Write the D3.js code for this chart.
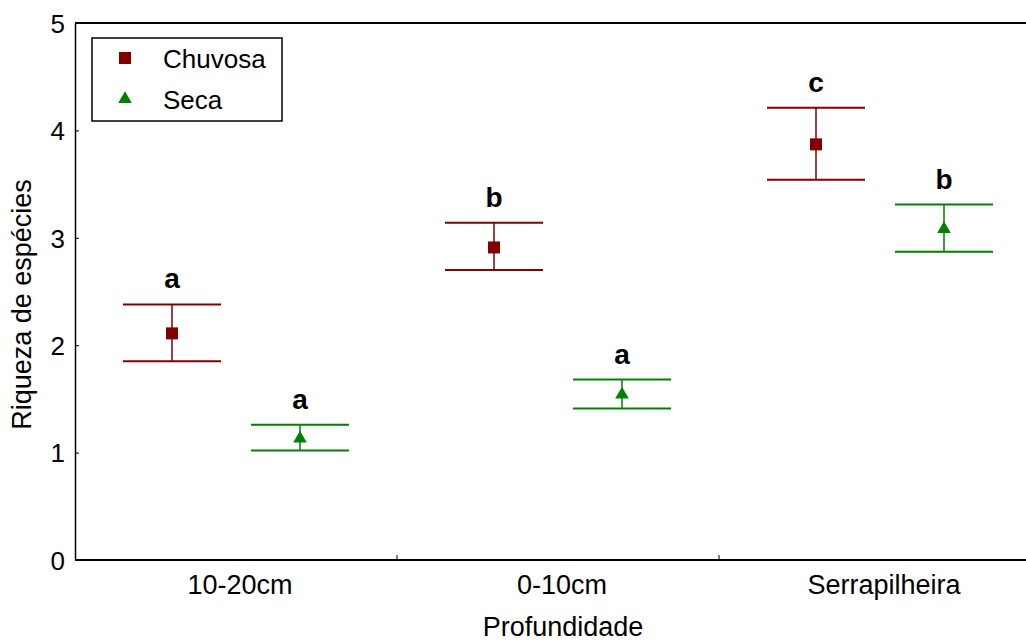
<!DOCTYPE html>
<html><head><meta charset="utf-8">
<script src="https://cdn.jsdelivr.net/npm/d3@7/dist/d3.min.js"></script>
<style>body{margin:0;background:#fff;} text{font-family:"Liberation Sans",Arial,sans-serif;}</style>
</head><body>
<svg id="c" width="1026" height="642"></svg>
<script>
const categories = ["10-20cm", "0-10cm", "Serrapilheira"];
const seriesNames = ["Chuvosa", "Seca"];
const chuvosaMean = [2.11, 2.91, 3.87];
const chuvosaUpper = [2.38, 3.14, 4.21];
const chuvosaLower = [1.85, 2.70, 3.54];
const chuvosaLetters = ["a", "b", "c"];
const secaMean = [1.14, 1.55, 3.09];
const secaUpper = [1.26, 1.68, 3.31];
const secaLower = [1.02, 1.41, 2.87];
const secaLetters = ["a", "a", "b"];
const yTicks = [0, 1, 2, 3, 4, 5];
const colors = ["#800000", "#008000"];

const svg = d3.select("#c");
const mLeft = 75, mRight = 1041, mTop = 23, mBottom = 560;
const x = d3.scaleBand().domain(categories).range([mLeft, mRight]);
const xs = d3.scalePoint().domain(seriesNames).range([-64, 64]);
const y = d3.scaleLinear().domain([0, 5]).range([mBottom, mTop]);

const series = [
  {name: "Chuvosa", mean: chuvosaMean, up: chuvosaUpper, lo: chuvosaLower, letters: chuvosaLetters, color: colors[0], sym: d3.symbolSquare},
  {name: "Seca", mean: secaMean, up: secaUpper, lo: secaLower, letters: secaLetters, color: colors[1], sym: d3.symbolTriangle}
];

// axes
const yAxis = svg.append("g").attr("transform", `translate(${mLeft},0)`)
  .call(d3.axisLeft(y).tickValues(yTicks).tickSizeInner(-4).tickSizeOuter(0).tickPadding(10).tickFormat(d3.format("d")));
yAxis.select(".domain").attr("stroke", "#000").attr("stroke-width", 1.5);
yAxis.selectAll("text").attr("font-size", 26).attr("fill", "#000").attr("dy", "0.36em");

const xAxis = svg.append("g").attr("transform", `translate(0,${mBottom})`)
  .call(d3.axisBottom(x).tickSize(0).tickPadding(34));
xAxis.select(".domain").remove();
xAxis.selectAll("text").attr("font-size", 27).attr("fill", "#000").attr("dy", "0").attr("dx", 4);
svg.append("line").attr("x1", mLeft).attr("x2", 1026).attr("y1", mBottom).attr("y2", mBottom).attr("stroke", "#000").attr("stroke-width", 2);
svg.append("line").attr("x1", mLeft).attr("x2", 1026).attr("y1", mTop).attr("y2", mTop).attr("stroke", "#000").attr("stroke-width", 2);
// category boundary ticks
svg.selectAll(".bt").data(categories.slice(1)).enter().append("line")
  .attr("x1", d => x(d)).attr("x2", d => x(d)).attr("y1", mBottom).attr("y2", mBottom - 5)
  .attr("stroke", "#000").attr("stroke-width", 1);

svg.append("text").attr("x", 563).attr("y", 636).attr("text-anchor", "middle")
  .attr("font-size", 27).text("Profundidade");
svg.append("text").attr("transform", `translate(31,${(mTop + mBottom) / 2 + 13}) rotate(-90)`).attr("text-anchor", "middle")
  .attr("font-size", 27).text("Riqueza de espécies");

// data
series.forEach(s => {
  const g = svg.append("g");
  categories.forEach((c, i) => {
    const cx = x(c) + x.bandwidth() / 2 + xs(s.name);
    g.append("line").attr("x1", cx).attr("x2", cx).attr("y1", y(s.up[i])).attr("y2", y(s.lo[i]))
      .attr("stroke", s.color).attr("stroke-width", 1.5);
    [s.up[i], s.lo[i]].forEach(v => {
      g.append("line").attr("x1", cx - 49).attr("x2", cx + 49).attr("y1", y(v)).attr("y2", y(v))
        .attr("stroke", s.color).attr("stroke-width", 2);
    });
    g.append("path").attr("d", d3.symbol().type(s.sym).size(s.sym === d3.symbolSquare ? 144 : 80)())
      .attr("transform", `translate(${cx},${y(s.mean[i]) + (s.sym === d3.symbolTriangle ? 1 : 0)})`).attr("fill", s.color);
    g.append("text").attr("x", cx).attr("y", y(s.up[i]) - 16).attr("text-anchor", "middle")
      .attr("font-size", 28).attr("font-weight", "bold").text(s.letters[i]);
  });
});

// legend
const lg = svg.append("g");
lg.append("rect").attr("x", 92).attr("y", 38).attr("width", 190).attr("height", 83)
  .attr("fill", "#fff").attr("stroke", "#000").attr("stroke-width", 1.5);
series.forEach((s, i) => {
  const ly = 58 + i * 41;
  lg.append("path").attr("d", d3.symbol().type(s.sym).size(s.sym === d3.symbolSquare ? 144 : 80)())
    .attr("transform", `translate(125,${ly})`).attr("fill", s.color);
  lg.append("text").attr("x", 163).attr("y", ly + 10).attr("font-size", 26).text(s.name);
});
</script>
</body></html>
